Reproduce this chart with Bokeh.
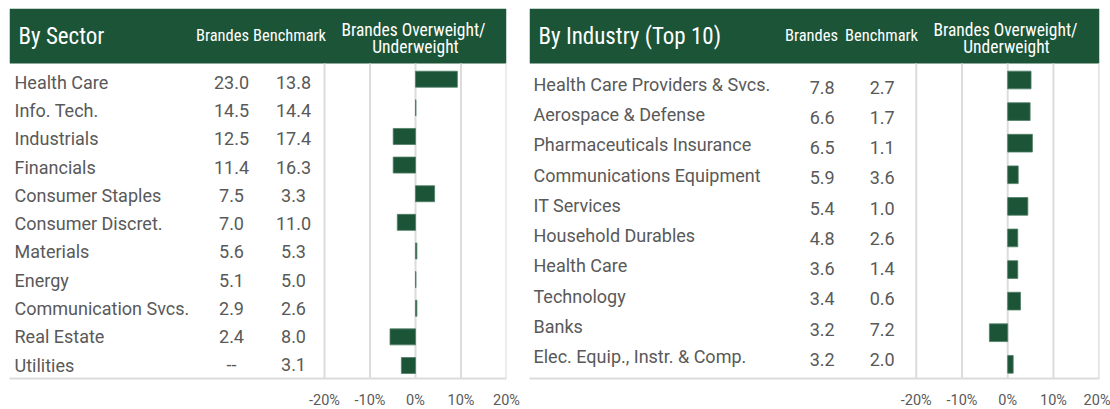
from bokeh.plotting import figure
from bokeh.models import Range1d, BoxAnnotation, FixedTicker, PrintfTickFormatter
from bokeh.layouts import row
from bokeh.core.properties import value
from bokeh.embed import file_html
from bokeh.resources import INLINE

# ---------------- data ----------------
sectors = ["Health Care", "Info. Tech.", "Industrials", "Financials", "Consumer Staples",
           "Consumer Discret.", "Materials", "Energy", "Communication Svcs.", "Real Estate", "Utilities"]
sector_brandes = [23.0, 14.5, 12.5, 11.4, 7.5, 7.0, 5.6, 5.1, 2.9, 2.4, None]
sector_bench = [13.8, 14.4, 17.4, 16.3, 3.3, 11.0, 5.3, 5.0, 2.6, 8.0, 3.1]
sector_active = [9.2, 0.1, -4.9, -4.9, 4.2, -4.0, 0.3, 0.1, 0.3, -5.6, -3.1]

industries = ["Health Care Providers & Svcs.", "Aerospace & Defense", "Pharmaceuticals Insurance",
              "Communications Equipment", "IT Services", "Household Durables", "Health Care",
              "Technology", "Banks", "Elec. Equip., Instr. & Comp."]
ind_brandes = [7.8, 6.6, 6.5, 5.9, 5.4, 4.8, 3.6, 3.4, 3.2, 3.2]
ind_bench = [2.7, 1.7, 1.1, 3.6, 1.0, 2.6, 1.4, 0.6, 7.2, 2.0]
ind_active = [5.1, 4.9, 5.4, 2.3, 4.4, 2.2, 2.2, 2.8, -4.0, 1.2]

ticks = [-20, -10, 0, 10, 20]
col_headers = ["Brandes", "Benchmark"]
ow_header = ["Brandes Overweight/", "Underweight"]

# ---------------- style ----------------
GREEN = "#1c5438"
BAR_LINE = "#4f7d64"
GRID = "#dcdcdc"
TXT = "#595959"
BODY_FONT = value("Roboto")
HEAD_FONT = value("Roboto Condensed, Roboto")


def fmt(v):
    return "--" if v is None else f"{v:.1f}"


def panel(cfg, title, cats, brandes, bench, active):
    fl, fr, ft, fb = cfg["frame"]
    tm20, t20 = cfg["tick_px"]
    k = 40.0 / (t20 - tm20)
    xs = -20 - (tm20 - fl) * k
    xe = 20 + (fr - t20) * k
    r0, rs = cfg["bar_row"]
    p = figure(frame_width=int(round(fr - fl)), frame_height=int(round(fb - ft)),
               x_range=Range1d(xs, xe), y_range=Range1d((fb - r0) / rs, (ft - r0) / rs),
               output_backend="svg", toolbar_location=None, y_axis_location=None,
               min_border_left=cfg["bl"], min_border_right=cfg["br"], min_border_top=int(ft),
               min_border_bottom=31, outline_line_color=None,
               background_fill_color="white", border_fill_color="white")
    p.extra_x_ranges = {"px": Range1d(fl, fr)}
    p.extra_y_ranges = {"py": Range1d(fb, ft)}
    p.xgrid.visible = False
    p.ygrid.visible = False

    # header band
    p.add_layout(BoxAnnotation(left=fl, right=fr, top=ft, bottom=cfg["head_bottom"],
                               x_range_name="px", y_range_name="py", level="underlay",
                               fill_color=GREEN, fill_alpha=1, line_color=None))

    # vertical gridlines
    p.segment(x0=ticks, x1=ticks, y0=cfg["head_bottom"], y1=fb, y_range_name="py",
              line_color=GRID, line_width=2)

    idx = list(range(len(cats)))
    p.hbar(y=idx, left=0, right=active, height=cfg["bar_h"] / rs,
           fill_color=GREEN, line_color=BAR_LINE, line_width=0.8)

    # table text (y = vertical centre of the capitals)
    lb0, ls = cfg["label_mid"]
    nb0, ns = cfg["num_mid"]
    lab_y = [lb0 + ls * i for i in idx]
    num_y = [nb0 + ns * i for i in idx]
    p.text(x=cfg["label_x"], y=lab_y, text=cats, x_range_name="px", y_range_name="py",
           text_align="left", text_baseline="middle", text_font=BODY_FONT,
           text_font_size="18px", text_color=TXT)
    p.text(x=cfg["col1_x"], y=num_y, text=[fmt(v) for v in brandes], x_range_name="px",
           y_range_name="py", text_align="center", text_baseline="middle",
           text_font=BODY_FONT, text_font_size="18px", text_color=TXT)
    p.text(x=cfg["col2_x"], y=num_y, text=[fmt(v) for v in bench], x_range_name="px",
           y_range_name="py", text_align="center", text_baseline="middle",
           text_font=BODY_FONT, text_font_size="18px", text_color=TXT)

    # header text
    p.text(x=[cfg["title_x"]], y=[36], text=[title], x_range_name="px", y_range_name="py",
           text_align="left", text_baseline="middle", text_font=HEAD_FONT,
           text_font_size="23px", text_color="white")
    p.text(x=cfg["head_cols_x"], y=[35.3, 35.3], text=col_headers, x_range_name="px",
           y_range_name="py", text_align="center", text_baseline="middle",
           text_font=HEAD_FONT, text_font_size="16.5px", text_color="white")
    p.text(x=cfg["ow_x"], y=[29.2, 46.2], text=ow_header, x_range_name="px",
           y_range_name="py", text_align="center", text_baseline="middle",
           text_font=HEAD_FONT, text_font_size="17.5px", text_color="white")

    ax = p.xaxis[0]
    ax.ticker = FixedTicker(ticks=ticks)
    ax.formatter = PrintfTickFormatter(format="%d%%")
    ax.axis_line_color = GRID
    ax.axis_line_width = 2
    ax.major_tick_line_color = None
    ax.minor_tick_line_color = None
    ax.major_label_standoff = 7
    ax.major_label_text_font = "Roboto"
    ax.major_label_text_font_size = "14.5px"
    ax.major_label_text_color = TXT
    return p


left_cfg = dict(frame=(9, 506, 8, 378), tick_px=(324, 506), bar_row=(78.7, 28.63), bar_h=16,
                label_mid=(81.6, 28.3), num_mid=(82.0, 28.22), label_x=14, col1_x=231, col2_x=293,
                title_x=18, head_cols_x=[222, 289], ow_x=[413, 415], head_bottom=63, bl=9, br=14)
right_cfg = dict(frame=(529, 1099, 8, 378), tick_px=(915.7, 1098.7), bar_row=(79.5, 31.59), bar_h=17.7,
                 label_mid=(83.7, 30.29), num_mid=(86.7, 30.23), label_x=533, col1_x=821.7, col2_x=881.7,
                 title_x=538, head_cols_x=[811, 881], ow_x=[1005, 1006], head_bottom=63, bl=9, br=11)

p1 = panel(left_cfg, "By Sector", sectors, sector_brandes, sector_bench, sector_active)
p2 = panel(right_cfg, "By Industry (Top 10)", industries, ind_brandes, ind_bench, ind_active)

layout = row(p1, p2)
open("out.html", "w").write(file_html(layout, INLINE))
